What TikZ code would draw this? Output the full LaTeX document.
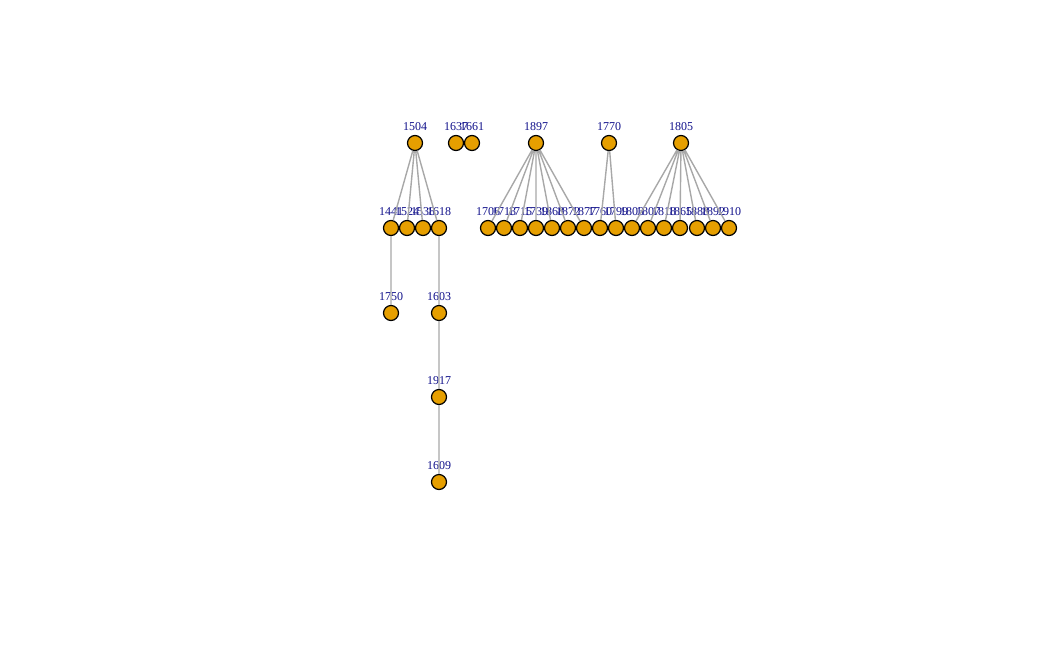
\documentclass[tikz,border=0pt]{standalone}
\usepackage{fontspec}
\setmainfont{Liberation Serif}
\usepackage{tikz}
\usetikzlibrary{positioning}
\definecolor{vfill}{HTML}{E69F00}
\definecolor{vlab}{HTML}{10108A}
\definecolor{egray}{HTML}{A8A8A8}
\tikzset{
  vert/.style={circle,draw=black,line width=1.2pt,fill=vfill,minimum size=15pt,inner sep=0pt},
  every label/.style={text=vlab,font=\fontsize{12}{14}\selectfont,inner sep=1pt},
  tedge/.style={draw=egray,line width=1.4pt}
}
\begin{document}
\begin{tikzpicture}[x=1pt,y=-1pt,label distance=3.5pt]
  \useasboundingbox (0,0) rectangle (1062,656);

  % tree of 1504
  \node [vert,label=above:1504] (v1504) at (415,143) {};
  \node [vert,label=above:1441] (v1441) at (391,228) {};
  \node [vert,label=above:1524] (v1524) at (407,228) {};
  \node [vert,label=above:1538] (v1538) at (423,228) {};
  \node [vert,label=above:1618] (v1618) at (439,228) {};
  \node [vert,label=above:1750] (v1750) at (391,313) {};
  \node [vert,label=above:1603] (v1603) at (439,313) {};
  \node [vert,label=above:1917] (v1917) at (439,397) {};
  \node [vert,label=above:1609] (v1609) at (439,482) {};

  % isolated
  \node [vert,label=above:1637] (v1637) at (456,143) {};
  \node [vert,label=above:1661] (v1661) at (472,143) {};

  % roots
  \node [vert,label=above:1897] (v1897) at (536,143) {};
  \node [vert,label=above:1770] (v1770) at (609,143) {};
  \node [vert,label=above:1805] (v1805) at (681,143) {};

  % second row
  \node [vert,label=above:1706] (v1706) at (488,228) {};
  \node [vert,label=above:1713] (v1713) at (504,228) {};
  \node [vert,label=above:1715] (v1715) at (520,228) {};
  \node [vert,label=above:1739] (v1739) at (536,228) {};
  \node [vert,label=above:1868] (v1868) at (552,228) {};
  \node [vert,label=above:1872] (v1872) at (568,228) {};
  \node [vert,label=above:1877] (v1877) at (584,228) {};
  \node [vert,label=above:1760] (v1760) at (600,228) {};
  \node [vert,label=above:1799] (v1799) at (616,228) {};
  \node [vert,label=above:1803] (v1803) at (632,228) {};
  \node [vert,label=above:1807] (v1807) at (648,228) {};
  \node [vert,label=above:1818] (v1818) at (664,228) {};
  \node [vert,label=above:1865] (v1865) at (680,228) {};
  \node [vert,label=above:1888] (v1888) at (697,228) {};
  \node [vert,label=above:1892] (v1892) at (713,228) {};
  \node [vert,label=above:1910] (v1910) at (729,228) {};

  \path [tedge] (v1504) -- (v1441) (v1504) -- (v1524) (v1504) -- (v1538) (v1504) -- (v1618)
        (v1441) -- (v1750) (v1618) -- (v1603) (v1603) -- (v1917) (v1917) -- (v1609);
  \path [tedge] (v1897) -- (v1706) (v1897) -- (v1713) (v1897) -- (v1715) (v1897) -- (v1739)
        (v1897) -- (v1868) (v1897) -- (v1872) (v1897) -- (v1877);
  \path [tedge] (v1770) -- (v1760) (v1770) -- (v1799);
  \path [tedge] (v1805) -- (v1803) (v1805) -- (v1807) (v1805) -- (v1818) (v1805) -- (v1865)
        (v1805) -- (v1888) (v1805) -- (v1892) (v1805) -- (v1910);
\end{tikzpicture}
\end{document}
